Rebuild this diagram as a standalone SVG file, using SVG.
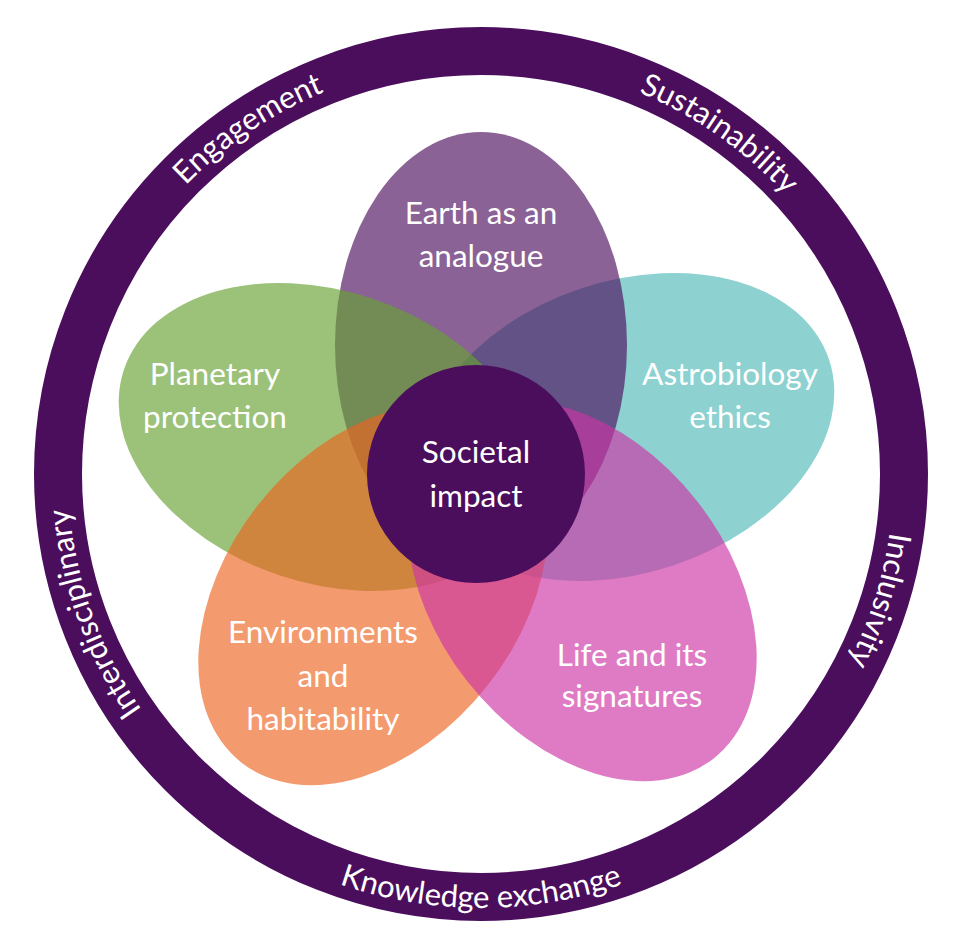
<svg xmlns="http://www.w3.org/2000/svg" width="960" height="949" viewBox="0 0 960 949">
<style>
.petal{fill-opacity:0.65}
.lbl{font-family:Lato,'Open Sans',sans-serif;font-size:31.5px;fill:#ffffff;text-anchor:middle}
.rt{font-family:Lato,'Open Sans',sans-serif;font-size:31px;fill:#ffffff;text-anchor:middle}
</style>
<defs>
<path id="pEng" d="M80.3,573.9 A413,413 0 0 1 723.8,139.9"/>
<path id="pSus" d="M244.1,135.7 A413,413 0 0 1 879.9,580.9"/>
<path id="pInc" d="M733,146.8 A413,413 0 0 1 498.3,886.6"/>
<path id="pInt" d="M479.6,887 A413,413 0 0 1 216.6,156.7"/>
<path id="pKno" d="M73.2,622.4 A434,434 0 0 0 888.8,622.4"/>
</defs>
<g id="ring">
<circle cx="481" cy="474" r="423" fill="none" stroke="#4B0E5D" stroke-width="48"/>
<text class="rt"><textPath href="#pEng" startOffset="50%">Engagement</textPath></text>
<text class="rt"><textPath href="#pSus" startOffset="50%">Sustainability</textPath></text>
<text class="rt"><textPath href="#pInc" startOffset="50%">Inclusivity</textPath></text>
<text class="rt"><textPath href="#pInt" startOffset="50%">Interdisciplinary</textPath></text>
<text class="rt"><textPath href="#pKno" startOffset="50%">Knowledge exchange</textPath></text>
</g>
<g id="astrobiology">
<ellipse class="petal" cx="627" cy="427" rx="146" ry="213" transform="rotate(71.6 627 427)" fill="#50B8B9"/>
<text class="lbl" x="730" y="385">Astrobiology</text>
<text class="lbl" x="730" y="428">ethics</text>
</g>
<g id="earth">
<ellipse class="petal" cx="481" cy="345" rx="146" ry="213" fill="#4B0E5D"/>
<text class="lbl" x="481" y="224">Earth as an</text>
<text class="lbl" x="481" y="267">analogue</text>
</g>
<g id="planetary">
<ellipse class="petal" cx="326" cy="437" rx="146" ry="213" transform="rotate(-71.6 326 437)" fill="#67A231"/>
<text class="lbl" x="215" y="385">Planetary</text>
<text class="lbl" x="215" y="428">protection</text>
</g>
<g id="environments">
<ellipse class="petal" cx="373" cy="595" rx="146" ry="213" transform="rotate(38.2 373 595)" fill="#EC6420"/>
<text class="lbl" x="323" y="643">Environments</text>
<text class="lbl" x="323" y="687">and</text>
<text class="lbl" x="323" y="730">habitability</text>
</g>
<g id="life">
<ellipse class="petal" cx="582" cy="591" rx="146" ry="213" transform="rotate(-38.2 582 591)" fill="#CC34A5"/>
<text class="lbl" x="632" y="666">Life and its</text>
<text class="lbl" x="632" y="707">signatures</text>
</g>
<g id="societal">
<circle cx="476" cy="474" r="109" fill="#4B0E5D"/>
<text class="lbl" x="476" y="463">Societal</text>
<text class="lbl" x="476" y="507">impact</text>
</g>
</svg>
